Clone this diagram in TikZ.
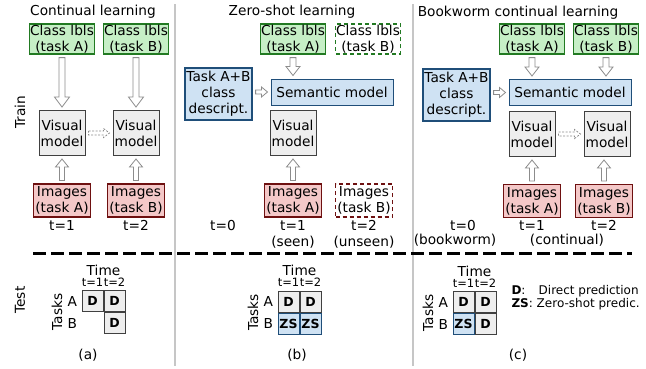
\documentclass[tikz,border=0pt]{standalone}
\usepackage{fontspec}
\setmainfont{DejaVu Sans}
\usepackage{tikz}
\usetikzlibrary{positioning, calc}
\definecolor{lblfill}{RGB}{198,239,198}
\definecolor{lbldraw}{RGB}{34,122,34}
\definecolor{imgfill}{RGB}{244,200,200}
\definecolor{imgdraw}{RGB}{110,16,16}
\definecolor{semfill}{RGB}{207,226,243}
\definecolor{semdraw}{RGB}{31,78,121}
\definecolor{visfill}{RGB}{238,238,238}
\definecolor{visdraw}{RGB}{64,64,64}
\tikzset{hollow/.style n args={3}{to path={
    ($(\tikztostart)!3pt!(\tikztotarget)$) coordinate (hs)
    ($(\tikztotarget)!3pt!(\tikztostart)$) coordinate (ht)
    ($(ht)!#3!(hs)$) coordinate (hb)
    ($(hs)!#1!90:(ht)$) -- ($(hb)!#1!90:(ht)$) -- ($(hb)!#2!90:(ht)$) -- (ht)
    -- ($(hb)!#2!-90:(ht)$) -- ($(hb)!#1!-90:(ht)$) -- ($(hs)!#1!-90:(ht)$) -- cycle}}}

\begin{document}
\begin{tikzpicture}[x=1pt, y=-1pt, every node/.style={font=\fontsize{13.7}{16}\selectfont}, lblbox/.style={draw=lbldraw, fill=lblfill, line width=1.2pt, align=center, inner sep=0.3pt, minimum width=63pt, minimum height=30pt}, imgbox/.style={draw=imgdraw, fill=imgfill, line width=1.2pt, align=center, inner sep=0.3pt, minimum width=57pt, minimum height=33pt}, visbox/.style={draw=visdraw, fill=visfill, line width=1pt, align=center, inner sep=0.3pt, minimum width=46pt, minimum height=45pt}, sembox/.style={draw=semdraw, fill=semfill, line width=1pt, inner sep=0.3pt, minimum width=122pt, minimum height=26pt}, descbox/.style={draw=semdraw, fill=semfill, line width=1.2pt, align=center, inner sep=0.3pt, minimum width=67pt, minimum height=52pt}, unseen/.style={fill=white, dash pattern=on 4pt off 3pt}, tlbl/.style={inner sep=0.5pt, align=center}, arrowbox/.style={draw=gray!90, fill=white, line width=0.8pt}, cell/.style={minimum size=21pt, inner sep=0pt, line width=1pt, font=\bfseries\fontsize{12.5}{14}\selectfont}, cellD/.style={cell, draw=visdraw, fill=visfill}, cellZ/.style={cell, draw=semdraw, fill=semfill}, tsmall/.style={inner sep=0.5pt, font=\fontsize{11.5}{13}\selectfont}]
    \useasboundingbox (0,0) rectangle (646,368);

    %Separators
    \draw[gray!45, line width=2pt] (175,4) -- (175,366);
    \draw[gray!45, line width=2pt] (413,4) -- (413,366);
    \draw[black, line width=3pt, dash pattern=on 13pt off 5pt] (33,253) -- (632,253);

    %Nodes
    \node (ttlA) at (93,12) {Continual learning};
    \node (ttlB) at (292,12) {Zero-shot learning};
    \node (ttlC) at (518,13) {Bookworm continual learning};
    \node[rotate=90] (train) at (20,112) {Train};
    \node[rotate=90] (test) at (20,300) {Test};

    % (a) continual
    \node[lblbox] (aclsA) at (62,39) {Class lbls\\(task A)};
    \node[lblbox] (aclsB) at (136,39) {Class lbls\\(task B)};
    \node[visbox] (avisA) at (62,133) {Visual\\model};
    \node[visbox] (avisB) at (136,133) {Visual\\model};
    \node[imgbox] (aimgA) at (62,200.5) {Images\\(task A)};
    \node[imgbox] (aimgB) at (136,200.5) {Images\\(task B)};
    \node[tlbl, below=2pt of aimgA] (at1) {t=1};
    \node[tlbl, below=2pt of aimgB] (at2) {t=2};

    % (b) zero-shot
    \node[lblbox] (bclsA) at (293,39) {Class lbls\\(task A)};
    \node[lblbox, draw=lbldraw, unseen] (bclsB) at (368,39) {Class lbls\\(task B)};
    \node[descbox] (bdesc) at (218.5,94) {Task A+B\\class\\descript.};
    \node[sembox] (bsem) at (332,92) {Semantic model};
    \node[visbox] (bvisA) at (293,133) {Visual\\model};
    \node[imgbox] (bimgA) at (293,200.5) {Images\\(task A)};
    \node[imgbox, unseen] (bimgB) at (364,200.5) {Images\\(task B)};
    \node[tlbl, below=2pt of bimgA] (bt1) {t=1\\(seen)};
    \node[tlbl, below=2pt of bimgB] (bt2) {t=2\\(unseen)};
    \node[tlbl, anchor=north] (bt0) at (bt1.north -| 223,0) {t=0};

    % (c) bookworm
    \node[lblbox] (cclsA) at (532,39) {Class lbls\\(task A)};
    \node[lblbox] (cclsB) at (606,39) {Class lbls\\(task B)};
    \node[descbox] (cdesc) at (456.5,95) {Task A+B\\class\\descript.};
    \node[sembox] (csem) at (570,92.5) {Semantic model};
    \node[visbox] (cvisA) at (532,134) {Visual\\model};
    \node[visbox] (cvisB) at (607,134) {Visual\\model};
    \node[imgbox] (cimgA) at (532,201) {Images\\(task A)};
    \node[imgbox] (cimgB) at (604,201) {Images\\(task B)};
    \node[tlbl, below=2pt of cimgA] (ct1) {t=1};
    \node[tlbl, below=2pt of cimgB] (ct2) {t=2};
    \node[tlbl, anchor=north] (ct0) at (ct1.north -| 463,0) {t=0};
    \node[tlbl] (cbook) at (455,240) {(bookworm)};
    \node[tlbl] (ccont) at (567,240) {(continual)};

    % test grids
    \node[cellD] (aA1) at (92.5,301) {D};
    \node[cellD, right=0pt of aA1] (aA2) {D};
    \node[cellD, below=0pt of aA2] (aB2) {D};
    \node[tsmall, above=3pt of aA1] (ag1) {t=1};
    \node[tsmall, above=3pt of aA2] (ag2) {t=2};
    \node (atime) at ($(ag1.north)!.5!(ag2.north)+(0,-7)$) {Time};
    \node[left=1pt of aA1] (aA) {A};
    \node (aB) at (aA |- aB2) {B};
    \node[rotate=90] (atasks) at ($(aA.west)!.5!(aB.west)+(-7,0)$) {Tasks};

    \node[cellD] (bA1) at (288.5,301.5) {D};
    \node[cellD, right=0pt of bA1] (bA2) {D};
    \node[cellZ, below=0pt of bA1] (bB1) {ZS};
    \node[cellZ, below=0pt of bA2] (bB2) {ZS};
    \node[tsmall, above=3pt of bA1] (bg1) {t=1};
    \node[tsmall, above=3pt of bA2] (bg2) {t=2};
    \node (btime) at ($(bg1.north)!.5!(bg2.north)+(0,-7)$) {Time};
    \node[left=1pt of bA1] (bA) {A};
    \node[left=1pt of bB1] (bB) {B};
    \node[rotate=90] (btasks) at ($(bA.west)!.5!(bB.west)+(-7,0)$) {Tasks};

    \node[cellD] (cA1) at (463.5,302) {D};
    \node[cellD, right=0pt of cA1] (cA2) {D};
    \node[cellZ, below=0pt of cA1] (cB1) {ZS};
    \node[cellD, below=0pt of cA2] (cB2) {D};
    \node[tsmall, above=3pt of cA1] (cg1) {t=1};
    \node[tsmall, above=3pt of cA2] (cg2) {t=2};
    \node (ctime) at ($(cg1.north)!.5!(cg2.north)+(0,-7)$) {Time};
    \node[left=1pt of cA1] (cA) {A};
    \node[left=1pt of cB1] (cB) {B};
    \node[rotate=90] (ctasks) at ($(cA.west)!.5!(cB.west)+(-7,0)$) {Tasks};

    \node[anchor=west, font=\fontsize{12}{14}\selectfont] (legD) at (508,291) {\textbf{D}:\hspace{1.1em}Direct prediction};
    \node[anchor=west, font=\fontsize{12}{14}\selectfont] (legZ) at (508,304) {\textbf{ZS}: Zero-shot predic.};

    \node (capA) at (88,355) {(a)};
    \node (capB) at (297,355) {(b)};
    \node (capC) at (518,355) {(c)};

    %Lines
    \draw[arrowbox] (aclsA.south) to[hollow={3pt}{7.5pt}{10pt}] (avisA.north);
    \draw[arrowbox] (aclsB.south) to[hollow={3pt}{7.5pt}{10pt}] (avisB.north);
    \draw[arrowbox] (aimgA.north) to[hollow={2.5pt}{6.5pt}{8pt}] (avisA.south);
    \draw[arrowbox] (aimgB.north) to[hollow={2.5pt}{6.5pt}{8pt}] (avisB.south);
    \draw[arrowbox, dash pattern=on 2pt off 1.5pt] (avisA.east) to[hollow={2pt}{4.5pt}{6pt}] (avisB.west);

    \draw[arrowbox] (bclsA.south) to[hollow={3pt}{7pt}{9pt}] (bclsA.south |- bsem.north);
    \draw[arrowbox] (bdesc.east |- bsem.west) to[hollow={2pt}{5pt}{6pt}] (bsem.west);
    \draw[arrowbox] (bimgA.north) to[hollow={2.5pt}{6.5pt}{8pt}] (bvisA.south);

    \draw[arrowbox] (cclsA.south) to[hollow={3pt}{7pt}{9pt}] (cclsA.south |- csem.north);
    \draw[arrowbox] (cclsB.south) to[hollow={3pt}{7pt}{9pt}] (cclsB.south |- csem.north);
    \draw[arrowbox] (cdesc.east |- csem.west) to[hollow={2pt}{5pt}{6pt}] (csem.west);
    \draw[arrowbox] (cimgA.north) to[hollow={2.5pt}{6.5pt}{8pt}] (cvisA.south);
    \draw[arrowbox] (cimgB.north) to[hollow={2.5pt}{6.5pt}{8pt}] (cimgB.north |- cvisB.south);
    \draw[arrowbox, dash pattern=on 2pt off 1.5pt] (cvisA.east) to[hollow={2pt}{4.5pt}{6pt}] (cvisB.west);

\end{tikzpicture}
\end{document}
